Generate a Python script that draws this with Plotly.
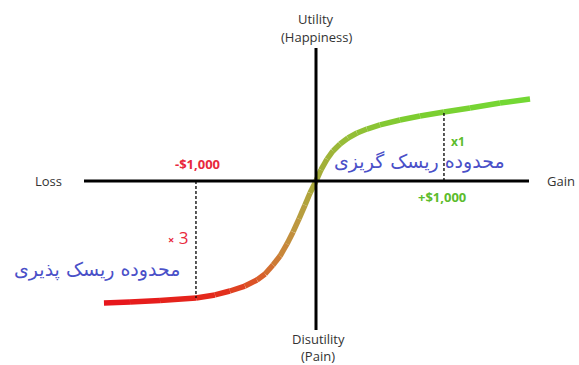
import plotly.graph_objects as go
from plotly.colors import sample_colorscale

# Value function (prospect theory), x in thousands of $
curve_x = [-1.71, -1.5, -1.258, -0.968, -0.815, -0.694, -0.573, -0.476, -0.411,
           -0.347, -0.29, -0.234, -0.185, -0.137, -0.089, -0.048, 0.0,
           0.04, 0.089, 0.137, 0.194, 0.258, 0.331, 0.411, 0.516, 0.677,
           0.839, 1.032, 1.242, 1.484, 1.726]
curve_y = [-0.984, -0.976, -0.964, -0.944, -0.919, -0.887, -0.847, -0.798, -0.750,
           -0.677, -0.605, -0.508, -0.411, -0.306, -0.194, -0.097, 0.0,
           0.089, 0.177, 0.242, 0.298, 0.347, 0.387, 0.419, 0.452, 0.492,
           0.524, 0.556, 0.589, 0.629, 0.661]

loss_ref_x = [-0.968, -0.968]
loss_ref_y = [0.0, -0.944]
gain_ref_x = [1.032, 1.032]
gain_ref_y = [0.0, 0.556]

# red -> brown -> olive -> green along the curve
grad = [[0.0, '#e8141c'], [0.27, '#e32c1c'], [0.36, '#da5a28'], [0.42, '#c9863a'],
        [0.46, '#b99c40'], [0.5, '#a6ac38'], [0.56, '#98bc38'], [0.7, '#7ecc30'],
        [1.0, '#72da34']]

S = 124.0  # px per unit
def px(x):
    return (x - 316) / S
def py(y):
    return (181 - y) / S

fig = go.Figure()

# curve drawn segment by segment to get the colour gradient
x0, x1 = curve_x[0], curve_x[-1]
for i in range(len(curve_x) - 1):
    t = ((curve_x[i] + curve_x[i + 1]) / 2 - x0) / (x1 - x0)
    col = sample_colorscale(grad, [t])[0]
    fig.add_trace(go.Scatter(
        x=curve_x[i:i + 2], y=curve_y[i:i + 2], mode='lines',
        line=dict(color=col, width=5.5), hoverinfo='skip', showlegend=False
    ))

# dashed reference lines
for xs, ys in [(loss_ref_x, loss_ref_y), (gain_ref_x, gain_ref_y)]:
    fig.add_trace(go.Scatter(
        x=xs, y=ys, mode='lines',
        line=dict(color='black', width=1.3, dash='3px,2px'),
        hoverinfo='skip', showlegend=False
    ))

shapes = [
    dict(type='line', x0=px(84), x1=px(529), y0=0, y1=0, line=dict(color='black', width=3)),
    dict(type='line', x0=0, x1=0, y0=py(48), y1=py(330), line=dict(color='black', width=3)),
]

lab = dict(family='Open Sans', size=13, color='#333333')
fa = dict(family='DejaVu Sans', size=19, color='#4a50c8')
annotations = [
    dict(x=0, y=py(19), text='Utility', font=lab),
    dict(x=0, y=py(37), text='(Happiness)', font=lab),
    dict(x=px(318), y=py(339), text='Disutility', font=lab),
    dict(x=px(318), y=py(356), text='(Pain)', font=lab),
    dict(x=px(48), y=0, text='Loss', font=lab),
    dict(x=px(561), y=0, text='Gain', font=lab),
    dict(x=px(197), y=py(164), text='<b>-$1,000</b>',
         font=dict(family='Open Sans', size=13, color='#e8283c')),
    dict(x=px(442), y=py(197), text='<b>+$1,000</b>',
         font=dict(family='Open Sans', size=13, color='#5cbc2c')),
    dict(x=px(458), y=py(141), text='<b>x1</b>',
         font=dict(family='Open Sans', size=12, color='#5cbc2c')),
    dict(x=px(178), y=py(237), text='<b style="font-size:11px">×</b> 3',
         font=dict(family='Open Sans', size=17, color='#e8283c')),
    dict(x=px(419), y=py(161), text='محدوده ریسک گریزی', font=fa),
    dict(x=px(97), y=py(269), text='محدوده ریسک پذیری', font=fa),
]
for a in annotations:
    a.update(xref='x', yref='y', showarrow=False, xanchor='center', yanchor='middle')

fig.update_layout(
    width=579, height=365,
    margin=dict(l=0, r=0, t=0, b=0),
    paper_bgcolor='white', plot_bgcolor='white',
    xaxis=dict(range=[px(0), px(579)], visible=False),
    yaxis=dict(range=[py(365), py(0)], visible=False),
    shapes=shapes, annotations=annotations,
    showlegend=False
)

fig.write_html("out.html", config={'displayModeBar': False},
               post_script="document.body.style.margin='0px';")
